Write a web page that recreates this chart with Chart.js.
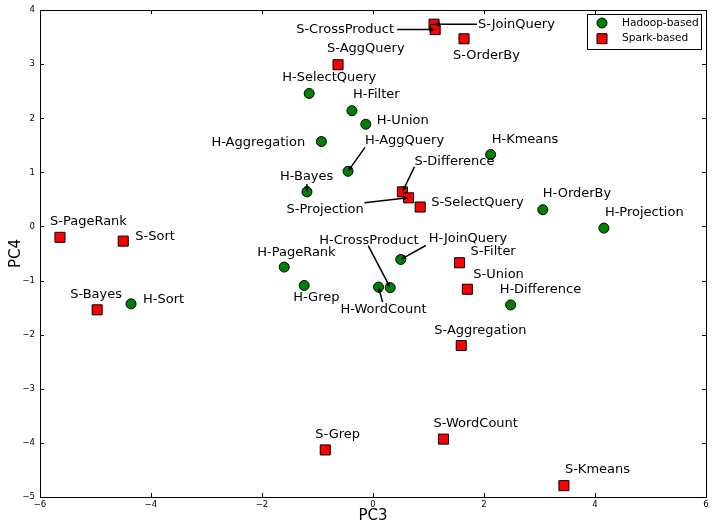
<!DOCTYPE html>
<html>
<head>
<meta charset="utf-8">
<script src="https://cdn.jsdelivr.net/npm/chart.js@4.4.0/dist/chart.umd.min.js"></script>
<style>
  html, body { margin: 0; padding: 0; background: #fff; }
  #wrap { width: 728px; height: 525px; }
</style>
</head>
<body>
<div id="wrap"><canvas id="pcaChart" width="728" height="525"></canvas></div>
<script>
// workload names and their PC3 / PC4 scores
const hadoopNames = ['H-SelectQuery', 'H-Filter', 'H-Union', 'H-Aggregation', 'H-AggQuery', 'H-Bayes',
  'H-Kmeans', 'H-OrderBy', 'H-Projection', 'H-JoinQuery', 'H-CrossProduct', 'H-WordCount',
  'H-PageRank', 'H-Grep', 'H-Difference', 'H-Sort'];
const hadoopPC3 = [-1.15, -0.38, -0.13, -0.93, -0.45, -1.19, 2.12, 3.06, 4.16, 0.50, 0.31, 0.10, -1.60, -1.24, 2.48, -4.36];
const hadoopPC4 = [2.46, 2.14, 1.89, 1.57, 1.02, 0.64, 1.33, 0.31, -0.03, -0.61, -1.13, -1.12, -0.75, -1.09, -1.45, -1.43];

const sparkNames = ['S-JoinQuery', 'S-CrossProduct', 'S-OrderBy', 'S-AggQuery', 'S-Difference', 'S-Projection',
  'S-SelectQuery', 'S-PageRank', 'S-Sort', 'S-Bayes', 'S-Filter', 'S-Union', 'S-Aggregation',
  'S-WordCount', 'S-Grep', 'S-Kmeans'];
const sparkPC3 = [1.10, 1.12, 1.64, -0.63, 0.53, 0.64, 0.85, -5.64, -4.50, -4.97, 1.56, 1.70, 1.59, 1.27, -0.86, 3.44];
const sparkPC4 = [3.74, 3.64, 3.47, 2.99, 0.64, 0.53, 0.36, -0.20, -0.27, -1.54, -0.67, -1.16, -2.20, -3.93, -4.13, -4.79];

const xTicks = [-6, -4, -2, 0, 2, 4, 6];
const yTicks = [-5, -4, -3, -2, -1, 0, 1, 2, 3, 4];

// label placement in px relative to the marker: [dx, dy, arrowStartDx, arrowStartDy]
const labelPlace = {
  'H-SelectQuery': [-27, -16], 'H-Filter': [1, -16], 'H-Union': [11, -4], 'H-Aggregation': [-110, 1],
  'H-AggQuery': [17, -31, 17, -24], 'H-Bayes': [-27, -15, 0, -8], 'H-Kmeans': [1, -15],
  'H-OrderBy': [0, -16], 'H-Projection': [1, -15], 'H-JoinQuery': [28, -21, 25, -14],
  'H-CrossProduct': [-71, -47, -22, -42], 'H-WordCount': [-38, 23, 4, 15], 'H-PageRank': [-27, -14],
  'H-Grep': [-11, 12], 'H-Difference': [-11, -15], 'H-Sort': [12, -4],
  'S-JoinQuery': [44, 0, 43, 0], 'S-CrossProduct': [-139, 0, -38, 0], 'S-OrderBy': [-11, 17],
  'S-AggQuery': [-11, -16], 'S-Difference': [12, -30, 12, -25], 'S-Projection': [-122, 12, -44, 5],
  'S-SelectQuery': [11, -4], 'S-PageRank': [-10, -16], 'S-Sort': [12, -4], 'S-Bayes': [-27, -15],
  'S-Filter': [11, -11], 'S-Union': [6, -15], 'S-Aggregation': [-27, -15], 'S-WordCount': [-10, -15],
  'S-Grep': [-10, -15], 'S-Kmeans': [1, -16]
};

const FONT = '"DejaVu Sans", "Liberation Sans", sans-serif';
const GREEN = '#008000';
const RED = '#ff0000';

function toPoints(names, xs, ys) {
  return names.map((n, i) => ({ x: xs[i], y: ys[i], name: n }));
}

function fmt(v) {
  return String(v).replace('-', '\u2212');
}

function drawArrow(ctx, x0, y0, x1, y1) {
  const ang = Math.atan2(y1 - y0, x1 - x0);
  const head = 6;
  ctx.beginPath();
  ctx.moveTo(x0, y0);
  ctx.lineTo(x1 - Math.cos(ang) * head * 0.8, y1 - Math.sin(ang) * head * 0.8);
  ctx.stroke();
  ctx.beginPath();
  ctx.moveTo(x1, y1);
  ctx.lineTo(x1 - head * Math.cos(ang - 0.4), y1 - head * Math.sin(ang - 0.4));
  ctx.lineTo(x1 - head * Math.cos(ang + 0.4), y1 - head * Math.sin(ang + 0.4));
  ctx.closePath();
  ctx.fill();
}

const framePlugin = {
  id: 'frame',
  beforeDatasetsDraw(chart) {
    const { ctx, chartArea: a } = chart;
    const xs = chart.scales.x, ys = chart.scales.y;
    ctx.save();
    ctx.strokeStyle = '#000';
    ctx.lineWidth = 1;
    ctx.strokeRect(Math.round(a.left) + 0.5, Math.round(a.top) + 0.5,
      Math.round(a.right - a.left), Math.round(a.bottom - a.top));
    // inward tick marks on all four sides
    ctx.beginPath();
    xTicks.forEach(v => {
      const x = Math.round(xs.getPixelForValue(v)) + 0.5;
      ctx.moveTo(x, a.bottom); ctx.lineTo(x, a.bottom - 4);
      ctx.moveTo(x, a.top); ctx.lineTo(x, a.top + 4);
    });
    yTicks.forEach(v => {
      const y = Math.round(ys.getPixelForValue(v)) + 0.5;
      ctx.moveTo(a.left, y); ctx.lineTo(a.left + 4, y);
      ctx.moveTo(a.right, y); ctx.lineTo(a.right - 4, y);
    });
    ctx.stroke();
    ctx.restore();
  }
};

const annotatePlugin = {
  id: 'annotate',
  afterDatasetsDraw(chart) {
    const ctx = chart.ctx;
    const xs = chart.scales.x, ys = chart.scales.y;
    ctx.save();
    ctx.font = '13px ' + FONT;
    ctx.fillStyle = '#000';
    ctx.strokeStyle = '#000';
    ctx.lineWidth = 1.5;
    ctx.textAlign = 'left';
    ctx.textBaseline = 'middle';
    chart.data.datasets.forEach(ds => {
      ds.data.forEach(p => {
        const px = xs.getPixelForValue(p.x);
        const py = ys.getPixelForValue(p.y);
        const o = labelPlace[p.name];
        ctx.fillText(p.name, px + o[0], py + o[1]);
        if (o.length > 2) drawArrow(ctx, px + o[2], py + o[3], px, py);
      });
    });

    // legend box, upper right
    const lx = 587, ly = 14, lw = 114, lh = 35;
    ctx.fillStyle = '#fff';
    ctx.fillRect(lx, ly, lw, lh);
    ctx.lineWidth = 1;
    ctx.strokeRect(lx + 0.5, ly + 0.5, lw, lh);
    ctx.font = '10.6px ' + FONT;
    chart.data.datasets.forEach((ds, i) => {
      const my = ly + 9 + i * 15.7;
      ctx.fillStyle = ds.backgroundColor;
      ctx.beginPath();
      if (ds.pointStyle === 'circle') {
        ctx.arc(602, my, 5, 0, Math.PI * 2);
      } else {
        ctx.rect(597, my - 5, 10, 10);
      }
      ctx.fill();
      ctx.stroke();
      ctx.fillStyle = '#000';
      ctx.fillText(ds.label, 622, my);
    });
    ctx.restore();
  }
};

const ctx = document.getElementById('pcaChart').getContext('2d');
new Chart(ctx, {
  type: 'scatter',
  data: {
    datasets: [
      {
        label: 'Hadoop-based',
        data: toPoints(hadoopNames, hadoopPC3, hadoopPC4),
        pointStyle: 'circle',
        pointRadius: 5,
        backgroundColor: GREEN,
        borderColor: '#000',
        borderWidth: 1
      },
      {
        label: 'Spark-based',
        data: toPoints(sparkNames, sparkPC3, sparkPC4),
        pointStyle: 'rect',
        pointRadius: 7.1,
        backgroundColor: RED,
        borderColor: '#000',
        borderWidth: 1
      }
    ]
  },
  options: {
    responsive: false,
    animation: false,
    devicePixelRatio: 1,
    events: [],
    layout: { padding: { left: 0, top: 9, right: 22, bottom: 0 } },
    plugins: {
      legend: { display: false },
      tooltip: { enabled: false }
    },
    scales: {
      x: {
        type: 'linear',
        min: -6,
        max: 6,
        afterBuildTicks: s => { s.ticks = xTicks.map(v => ({ value: v })); },
        afterFit: s => { s.height = 28; },
        grid: { display: false, drawTicks: false },
        border: { display: false },
        ticks: { font: { family: FONT, size: 8.5 }, color: '#000', padding: 3, maxRotation: 0, callback: v => fmt(v) },
        title: { display: true, text: 'PC3', font: { family: FONT, size: 15 }, color: '#000', padding: 0 }
      },
      y: {
        type: 'linear',
        min: -5,
        max: 4,
        afterBuildTicks: s => { s.ticks = yTicks.map(v => ({ value: v })); },
        afterFit: s => { s.width = 40; },
        grid: { display: false, drawTicks: false },
        border: { display: false },
        ticks: { font: { family: FONT, size: 8.5 }, color: '#000', padding: 5, callback: v => fmt(v) },
        title: { display: true, text: 'PC4', font: { family: FONT, size: 15 }, color: '#000', padding: { top: 7, bottom: 0 } }
      }
    }
  },
  plugins: [framePlugin, annotatePlugin]
});
</script>
</body>
</html>
